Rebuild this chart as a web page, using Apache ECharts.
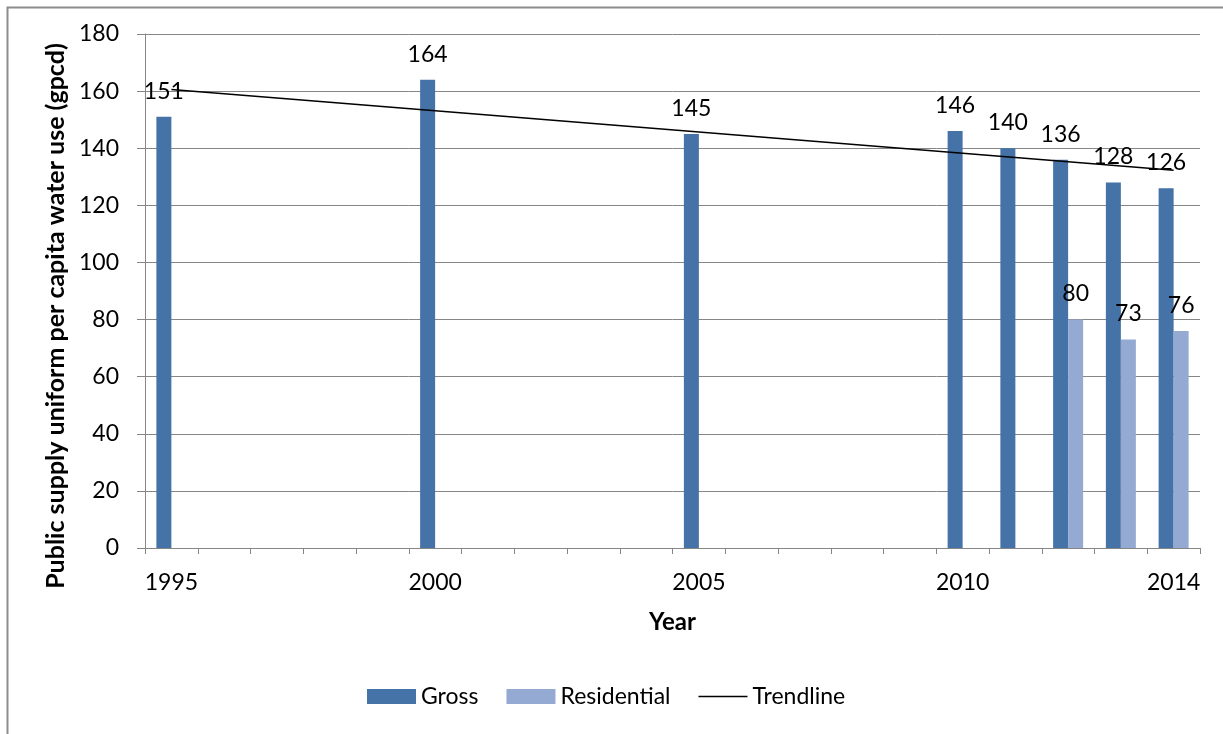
<!DOCTYPE html>
<html>
<head>
<meta charset="utf-8">
<title>Public supply per capita water use</title>
<script src="https://cdn.jsdelivr.net/npm/echarts@6/dist/echarts.min.js"></script>
<style>
  html, body { margin: 0; padding: 0; background: #fff; }
  #myChart { width: 1223px; height: 734px; }
</style>
</head>
<body>
<div id="myChart"></div>
<script>
// categories (one per year, most are empty)
var years = ["1995", "1996", "1997", "1998", "1999", "2000", "2001", "2002", "2003", "2004",
             "2005", "2006", "2007", "2008", "2009", "2010", "2011", "2012", "2013", "2014"];
// only these years get a label under the axis
var yearLabels = ["1995", "2000", "2005", "2010", "2014"];

var gross = [151, null, null, null, null, 164, null, null, null, null,
             145, null, null, null, null, 146, 140, 136, 128, 126];
var residential = [null, null, null, null, null, null, null, null, null, null,
                   null, null, null, null, null, null, null, 80, 73, 76];

// trendline end points
var trendYears = ["1995", "2014"];
var trendValues = [160.6, 132.3];

var yTicks = [0, 20, 40, 60, 80, 100, 120, 140, 160, 180];

var font = "Lato, 'Open Sans', sans-serif";
var gridColor = "#868686";

var myChart = echarts.init(document.getElementById("myChart"));
var option = {
  backgroundColor: "#fff",
  animation: false,
  textStyle: { fontFamily: font, color: "#000" },
  graphic: [
    {
      type: "rect",
      left: 5,
      top: 5,
      shape: { width: 1400, height: 900 },
      style: { fill: "none", stroke: "#8c8c8c", lineWidth: 2 },
      silent: true
    }
  ],
  legend: {
    left: 362,
    top: 680,
    itemWidth: 49,
    itemHeight: 15,
    itemGap: 28,
    textStyle: { fontFamily: font, fontSize: 23, color: "#000" },
    data: [
      { name: "Gross", icon: "rect" },
      { name: "Residential", icon: "rect" },
      { name: "Trendline", icon: "path://M0,7 L49,7 L49,8.5 L0,8.5 Z", itemStyle: { color: "#000" } }
    ]
  },
  grid: {
    left: 145,
    right: 23,
    top: 34,
    bottom: 186
  },
  xAxis: {
    type: "category",
    data: years,
    boundaryGap: true,
    name: "Year",
    nameLocation: "middle",
    nameGap: 62,
    nameTextStyle: { fontFamily: font, fontSize: 24, fontWeight: "bold", color: "#000" },
    axisLine: { lineStyle: { color: gridColor, width: 1 } },
    axisTick: { show: true, interval: 0, length: 6, lineStyle: { color: gridColor } },
    axisLabel: {
      interval: function (index, value) {
        return yearLabels.indexOf(value) >= 0;
      },
      margin: 23,
      fontFamily: font,
      fontSize: 23,
      color: "#000"
    },
    splitLine: { show: false }
  },
  yAxis: {
    type: "value",
    min: yTicks[0],
    max: yTicks[yTicks.length - 1],
    interval: 20,
    name: "Public supply uniform per capita water use (gpcd)",
    nameLocation: "middle",
    nameGap: 76,
    nameTextStyle: {
      fontFamily: font,
      fontSize: 25,
      fontWeight: "bold",
      color: "#000",
      padding: [0, 50, 0, 0]
    },
    axisLine: { show: true, lineStyle: { color: gridColor, width: 1 } },
    axisTick: { show: true, length: 8, lineStyle: { color: gridColor } },
    axisLabel: { margin: 26, fontFamily: font, fontSize: 23, color: "#000" },
    splitLine: { show: true, lineStyle: { color: gridColor, width: 1 } }
  },
  series: [
    {
      name: "Gross",
      type: "bar",
      data: gross,
      barWidth: 15,
      barGap: "0%",
      itemStyle: { color: "#4572A7" },
      label: {
        show: true,
        position: "top",
        distance: 14,
        fontFamily: font,
        fontSize: 23,
        color: "#000"
      }
    },
    {
      name: "Residential",
      type: "bar",
      data: residential,
      barWidth: 15,
      barGap: "0%",
      itemStyle: { color: "#95AAD3" },
      label: {
        show: true,
        position: "top",
        distance: 14,
        fontFamily: font,
        fontSize: 23,
        color: "#000"
      }
    },
    {
      name: "Trendline",
      type: "line",
      data: trendYears.map(function (y, i) { return [y, trendValues[i]]; }),
      symbol: "none",
      lineStyle: { color: "#000", width: 1.5 },
      itemStyle: { color: "#000" },
      z: 5
    }
  ]
};

myChart.setOption(option);
</script>
</body>
</html>
